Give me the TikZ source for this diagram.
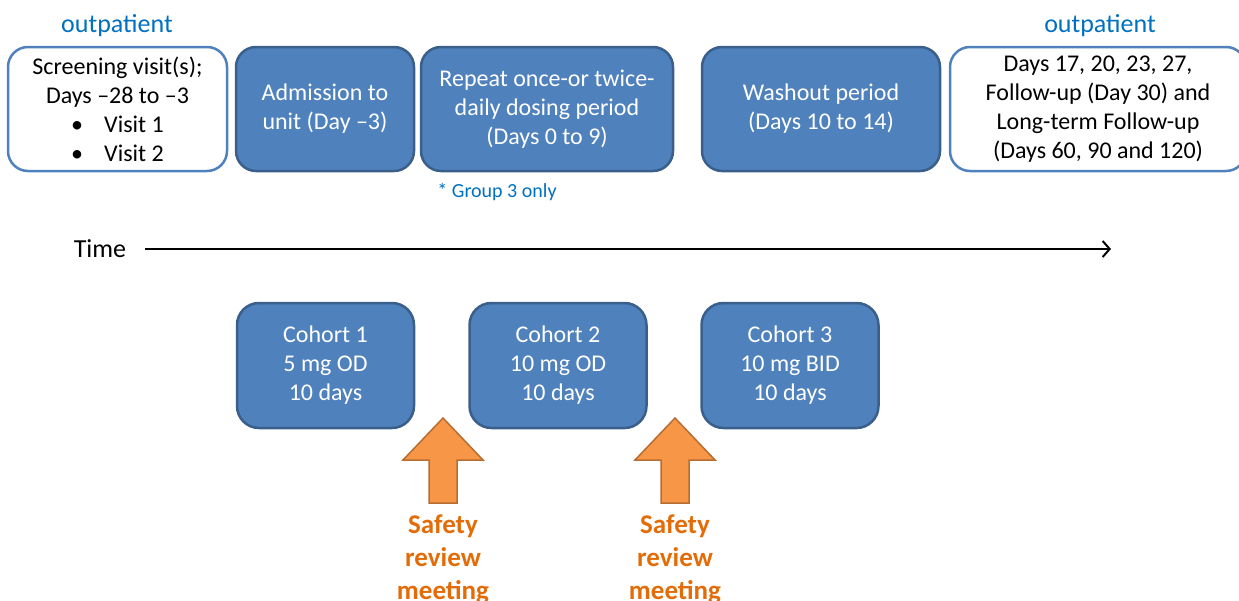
\documentclass[tikz,border=0pt]{standalone}
\usepackage{fontspec}
\setmainfont{Carlito}
\usetikzlibrary{arrows.meta}
\definecolor{boxblue}{HTML}{4F81BD}
\definecolor{boxedge}{HTML}{3A5F8B}
\definecolor{txtblue}{HTML}{0070C0}
\definecolor{arrfill}{HTML}{F79646}
\definecolor{arredge}{HTML}{B66D31}
\definecolor{safetxt}{HTML}{E36C09}
\begin{document}
\begin{tikzpicture}[x=1pt,y=-1pt,
  bodyfont/.style={font=\fontsize{24}{29}\selectfont},
  bluebox/.style={bodyfont,draw=boxedge,fill=boxblue,line width=2.5pt,rounded corners=20pt,text=white,align=center,inner sep=0pt,minimum height=124pt},
  whitebox/.style={bodyfont,draw=boxblue,fill=white,line width=2.5pt,rounded corners=20pt,text=black,align=center,inner sep=0pt,minimum height=124pt},
  cohort/.style={bluebox,minimum width=177pt,minimum height=125pt,rounded corners=22pt},
  bluelabel/.style={text=txtblue,inner sep=0pt},
  safety/.style={font=\fontsize{27}{33}\selectfont\bfseries,text=safetxt,align=center,inner sep=0pt},
  orangearrow/.style={draw=arredge,fill=arrfill,line width=1.5pt,line join=miter},
  timeline/.style={line width=2.5pt,-{Straight Barb[length=7pt,width=16pt,line width=2pt]}}]
\useasboundingbox (0,0) rectangle (1239,600);

% top row
\node[bluelabel,font=\fontsize{26}{30}\selectfont] (out1) at (117,26) {outpatient};
\node[bluelabel,font=\fontsize{26}{30}\selectfont] (out2) at (1100,26) {outpatient};

\node[whitebox,minimum width=219pt] (screen) at (117.5,109)
  {Screening visit(s);\\Days \textendash28 to \textendash3\\
   \makebox[33pt][l]{\textbullet}Visit 1\\\makebox[33pt][l]{\textbullet}Visit 2};
\node[bluebox,minimum width=178pt,text depth=4pt] (admit) at (325,109) {Admission to\\unit (Day \textendash3)};
\node[bluebox,minimum width=252pt,text depth=4pt] (dosing) at (547,109) {Repeat once-or twice-\\daily dosing period\\(Days 0 to 9)};
\node[bluebox,minimum width=238pt,text depth=4pt] (washout) at (821,109) {Washout period\\(Days 10 to 14)};
\node[whitebox,minimum width=296pt] (follow) at (1098,109)
  {Days 17, 20, 23, 27,\\Follow-up (Day 30) and\\Long-term Follow-up\\(Days 60, 90 and 120)};

\node[bluelabel,font=\fontsize{20}{24}\selectfont] (group) at (497,192) {* Group 3 only};

% time axis
\node[inner sep=0pt,font=\fontsize{26}{30}\selectfont] (time) at (100,249) {Time};
\coordinate (tstart) at (145,249);
\coordinate (tend) at (1111,249);
\draw[timeline] (tstart) -- (tend);

% cohorts
\node[cohort,text depth=4pt] (c1) at (325.5,365.5) {Cohort 1\\5 mg OD\\10 days};
\node[cohort,text depth=4pt] (c2) at (558,365.5) {Cohort 2\\10 mg OD\\10 days};
\node[cohort,text depth=4pt] (c3) at (790,365.5) {Cohort 3\\10 mg BID\\10 days};

% safety review arrows
\foreach \cx/\nm in {443/s1,675/s2}{
  \draw[orangearrow] (\cx,418) -- (\cx+40,460) -- (\cx+14,460) -- (\cx+14,503)
     -- (\cx-14,503) -- (\cx-14,460) -- (\cx-40,460) -- cycle;
  \node[safety] (\nm) at (\cx,559) {Safety\\review\\meeting};
}
\end{tikzpicture}
\end{document}
